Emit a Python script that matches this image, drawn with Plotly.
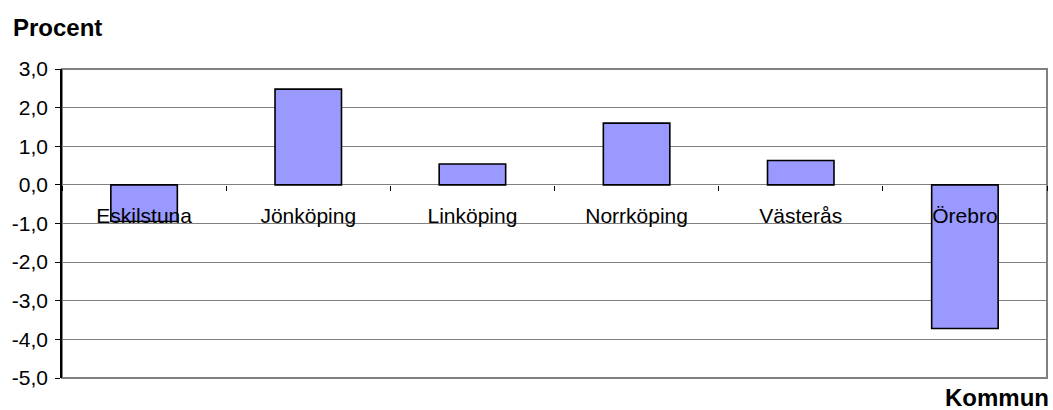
import plotly.graph_objects as go

categories = ["Eskilstuna", "Jönköping", "Linköping", "Norrköping", "Västerås", "Örebro"]
values = [-0.95, 2.48, 0.54, 1.6, 0.63, -3.72]
y_ticks = [-5, -4, -3, -2, -1, 0, 1, 2, 3]
y_tick_labels = ["-5,0", "-4,0", "-3,0", "-2,0", "-1,0", "0,0", "1,0", "2,0", "3,0"]

FONT = "Liberation Sans, Arial, sans-serif"

fig = go.Figure()
fig.add_trace(go.Bar(
    x=categories, y=values, width=0.405,
    marker=dict(color="#9999FF", line=dict(color="black", width=1.6)),
    hoverinfo="x+y",
))

fig.update_layout(
    width=1053, height=410,
    margin=dict(l=62, r=6, t=69, b=32, autoexpand=False),
    paper_bgcolor="white", plot_bgcolor="white",
    showlegend=False,
    font=dict(family=FONT, size=21, color="black"),
    xaxis=dict(
        anchor="free", position=(0 - (-5)) / 8, automargin=False,
        showgrid=False, showline=False, zeroline=False,
        ticks="outside", tickson="boundaries", ticklen=5, tickcolor="black", tickwidth=1,
        ticklabelstandoff=16,
        tickfont=dict(family=FONT, size=21, color="black"),
        fixedrange=True,
    ),
    yaxis=dict(
        range=[-5, 3], tickvals=y_ticks, ticktext=y_tick_labels, automargin=False,
        showgrid=True, gridcolor="#808080", gridwidth=1,
        zeroline=False,
        showline=True, linecolor="black", linewidth=1.5,
        ticks="outside", ticklen=5, tickcolor="black",
        ticklabelstandoff=3,
        tickfont=dict(family=FONT, size=21, color="black"),
        fixedrange=True,
    ),
    shapes=[dict(type="rect", xref="paper", yref="paper", x0=0, x1=1, y0=0, y1=1,
                 line=dict(color="#808080", width=2), layer="below")],
    annotations=[
        dict(text="<b>Procent</b>", xref="paper", yref="paper", x=(11 - 62) / 985, y=1 + (69 - 27) / 309,
             xanchor="left", yanchor="middle", showarrow=False,
             font=dict(family=FONT, size=24, color="black")),
        dict(text="<b>Kommun</b>", xref="paper", yref="paper", x=1 + 4 / 985, y=-(398 - 378) / 309,
             xanchor="right", yanchor="middle", showarrow=False,
             font=dict(family=FONT, size=24, color="black")),
    ],
)

fig.write_html("out.html", config={"displayModeBar": False},
               post_script="document.body.style.margin='0';document.body.style.overflow='hidden';")
